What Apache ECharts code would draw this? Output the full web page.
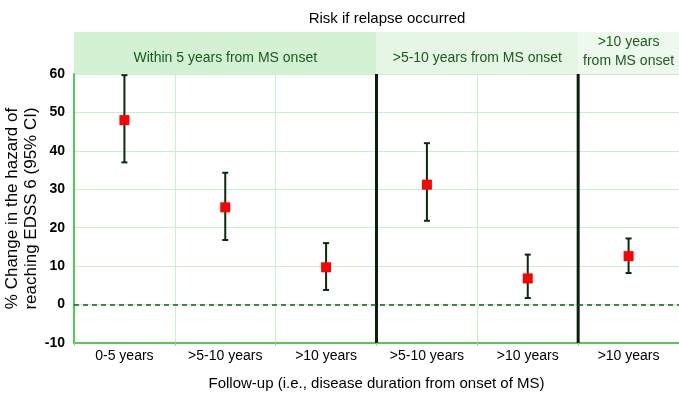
<!DOCTYPE html>
<html><head><meta charset="utf-8">
<script src="https://cdn.jsdelivr.net/npm/echarts@6/dist/echarts.min.js"></script>
<style>html,body{margin:0;padding:0;background:#fff}#c{width:679px;height:398px}</style>
</head><body><div id="c"></div>
<script>
var categories = ['0-5 years', '>5-10 years', '>10 years', '>5-10 years', '>10 years', '>10 years'];
var estimates = [48, 25.3, 9.7, 31.2, 6.8, 12.6];
var lowerCI = [37, 16.8, 3.8, 21.8, 1.7, 8.2];
var upperCI = [59.7, 34.3, 16, 42, 13, 17.2];
var groupLabels = ['Within 5 years from MS onset', '>5-10 years from MS onset', '>10 years\nfrom MS onset'];
var groupSizes = [3, 2, 1];
var yTicks = {min: -10, max: 60, interval: 10};

var FONT = '"Liberation Sans", Arial, sans-serif';
var chart = echarts.init(document.getElementById('c'), null, {renderer: 'canvas'});
var xIdx = categories.map(function (c, i) { return i; });

var option = {
  animation: false,
  backgroundColor: '#ffffff',
  title: {
    text: 'Risk if relapse occurred', left: 382, top: 6, textAlign: 'center',
    textStyle: {fontFamily: FONT, fontSize: 15, fontWeight: 'normal', color: '#000'}
  },
  grid: {left: 74, right: 0, top: 74, bottom: 55, containLabel: false, outerBoundsMode: 'none'},
  xAxis: {
    type: 'category', data: xIdx,
    boundaryGap: true,
    name: 'Follow-up (i.e., disease duration from onset of MS)',
    nameLocation: 'middle', nameGap: 33, nameMoveOverlap: false,
    nameTextStyle: {fontFamily: FONT, fontSize: 15, color: '#000'},
    axisLine: {onZero: false, lineStyle: {color: '#55c855', width: 2}},
    axisTick: {show: true, length: 3, lineStyle: {color: '#9ad89a'}},
    axisLabel: {fontFamily: FONT, fontSize: 14, color: '#000', margin: 6,
      formatter: function (v) { return categories[+v]; }},
    splitLine: {show: true, lineStyle: {color: '#cdeecd', width: 1}}
  },
  yAxis: {
    type: 'value', min: yTicks.min, max: yTicks.max, interval: yTicks.interval,
    name: '% Change in the hazard of\nreaching EDSS 6 (95% CI)',
    nameLocation: 'middle', nameGap: 33, nameRotate: 90, nameMoveOverlap: false,
    nameTextStyle: {fontFamily: FONT, fontSize: 17, color: '#000', lineHeight: 19},
    axisLine: {show: true, onZero: false, lineStyle: {color: '#55c855', width: 2}},
    axisTick: {show: false},
    axisLabel: {fontFamily: FONT, fontSize: 14, fontWeight: 'bold', color: '#000', margin: 9},
    splitLine: {show: true, lineStyle: {color: '#cdeecd', width: 1}}
  },
  series: [
    {
      type: 'custom', z: 3,
      data: xIdx.map(function (i) { return [i, lowerCI[i], upperCI[i]]; }),
      renderItem: function (params, api) {
        var lo = api.coord([api.value(0), api.value(1)]);
        var hi = api.coord([api.value(0), api.value(2)]);
        var w = 3;
        var st = {stroke: '#0d2a0d', lineWidth: 2};
        return {type: 'group', children: [
          {type: 'line', shape: {x1: lo[0], y1: lo[1], x2: hi[0], y2: hi[1]}, style: st},
          {type: 'line', shape: {x1: lo[0] - w, y1: lo[1], x2: lo[0] + w, y2: lo[1]}, style: st},
          {type: 'line', shape: {x1: hi[0] - w, y1: hi[1], x2: hi[0] + w, y2: hi[1]}, style: st}
        ]};
      }
    },
    {
      type: 'custom', z: 2, silent: true,
      data: (function () {
        var out = [], acc = 0;
        for (var g = 0; g < groupSizes.length - 1; g++) { acc += groupSizes[g]; out.push([acc - 1, acc]); }
        return out;
      })(),
      renderItem: function (params, api) {
        var a = api.coord([api.value(0), yTicks.max]);
        var b = api.coord([api.value(1), yTicks.min]);
        var x = (a[0] + b[0]) / 2;
        return {type: 'line', shape: {x1: x, y1: a[1], x2: x, y2: b[1]},
          style: {stroke: '#0a200a', lineWidth: 3}};
      }
    },
    {
      type: 'scatter', z: 4,
      symbol: 'rect', symbolSize: 10,
      itemStyle: {color: '#ff0000', opacity: 1},
      data: xIdx.map(function (i) { return [i, estimates[i]]; }),
      markLine: {
        silent: true, symbol: 'none', label: {show: false},
        lineStyle: {color: '#1a5a1a', type: [5, 4], width: 1.5},
        data: [{yAxis: 0}]
      }
    }
  ]
};
chart.setOption(option);

// header bands over each group, positioned from the axis scale
var bandColors = ['#d3f1d3', '#e5f6e5', '#edf9ed'];
var gfx = [];
var start = 0;
var topY = 32, botY = chart.convertToPixel({yAxisIndex: 0}, yTicks.max);
var half = (chart.convertToPixel({xAxisIndex: 0}, 1) - chart.convertToPixel({xAxisIndex: 0}, 0)) / 2;
for (var g = 0; g < groupSizes.length; g++) {
  var end = start + groupSizes[g] - 1;
  var c0 = chart.convertToPixel({xAxisIndex: 0}, start);
  var c1 = chart.convertToPixel({xAxisIndex: 0}, end);
  var x0 = c0 - half, x1 = c1 + half;
  gfx.push({type: 'rect', z: 0, shape: {x: x0, y: topY, width: x1 - x0, height: botY - topY},
    style: {fill: bandColors[g]}, silent: true});
  var multi = groupLabels[g].indexOf('\n') >= 0;
  gfx.push({type: 'text', z: 1, x: (x0 + x1) / 2, y: multi ? topY + 20 : botY - 16,
    style: {text: groupLabels[g], fontFamily: FONT, fontSize: 14, fill: '#1c5a1c',
      align: 'center', verticalAlign: 'middle', lineHeight: 19}, silent: true});
  start = end + 1;
}
chart.setOption({graphic: gfx});
</script>
</body></html>
